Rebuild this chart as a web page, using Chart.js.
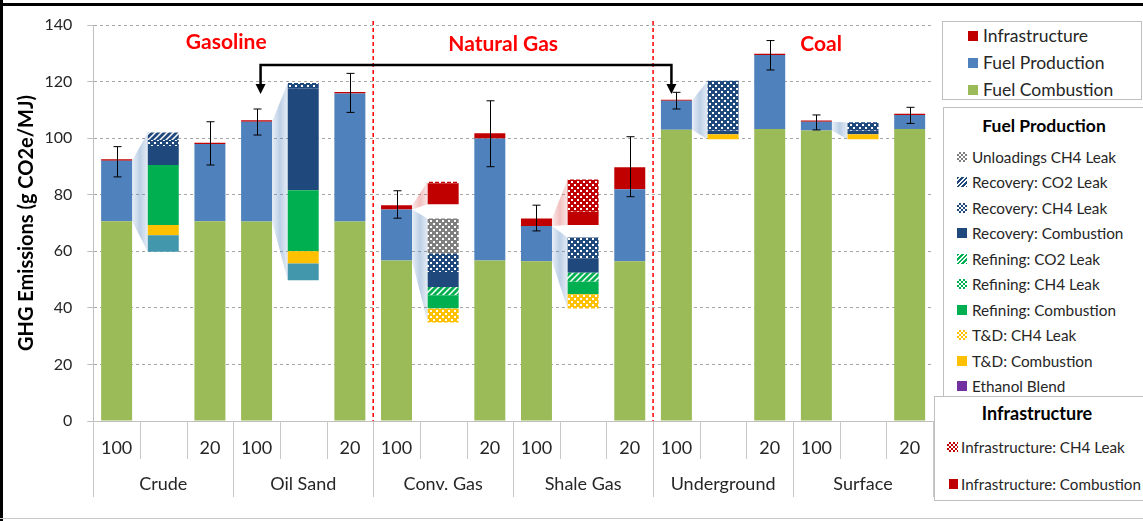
<!DOCTYPE html>
<html>
<head>
<meta charset="utf-8">
<script src="https://cdn.jsdelivr.net/npm/chart.js@4"></script>
<style>
body { margin: 0; background: #fff; font-family: Lato, sans-serif; }
#wrap { position: relative; width: 1143px; height: 521px; overflow: hidden; background: #fff; }
#chart { position: absolute; left: 0; top: 0; }
.frame { position: absolute; background: #000; }
.box { position: absolute; background: #fff; border: 1px solid #bfbfbf; box-sizing: border-box; color: #262626; }
.row { white-space: nowrap; display: flex; align-items: center; }
.sw { display: inline-block; width: 10px; height: 10px; margin-right: 5px; flex: none; }
.ttl { font-weight: bold; text-align: center; color: #000; }
</style>
</head>
<body>
<div id="wrap">
  <canvas id="chart" width="1143" height="521"></canvas>

  <div class="box" style="left:942px;top:21px;width:200px;height:79px;font-size:17.5px;padding-left:25px;">
    <div class="row" style="height:27px"><span class="sw" style="background:#C00000"></span>Infrastructure</div>
    <div class="row" style="height:27px"><span class="sw" style="background:#4F81BD"></span>Fuel Production</div>
    <div class="row" style="height:27px"><span class="sw" style="background:#9BBB59"></span>Fuel Combustion</div>
  </div>

  <div class="box" id="fpBox" style="left:943px;top:107px;width:210px;height:300px;font-size:15.3px;padding-left:13px;">
    <div class="ttl" style="height:36px;line-height:36px;margin-left:-13px;width:200px;font-size:17.5px">Fuel Production</div>
  </div>

  <div class="box" id="infBox" style="left:934px;top:396px;width:212px;height:105px;font-size:15.2px;">
    <div class="ttl" style="height:32px;line-height:32px;width:204px;font-size:18px">Infrastructure</div>
  </div>

  <div class="frame" style="left:0;top:3px;width:1143px;height:3px"></div>
  <div class="frame" style="left:0;top:0;width:3px;height:521px"></div>
  <div class="frame" style="left:0;top:518px;width:1143px;height:1px;background:#c8c8c8"></div>
</div>

<script>
// fuel groups, each with a 100-yr bar, a breakdown column and a 20-yr bar
const groups = ['Crude', 'Oil Sand', 'Conv. Gas', 'Shale Gas', 'Underground', 'Surface'];
const horizons = ['100', '', '20'];
const yTicks = [0, 20, 40, 60, 80, 100, 120, 140];

// main bars, pairs per group: [100-yr, 20-yr]
const fuelCombustion = [70.6, 70.6, 70.5, 70.5, 56.7, 56.7, 56.5, 56.5, 103.0, 103.2, 102.7, 103.2];
const fuelProduction = [21.4, 27.3, 35.3, 45.3, 18.1, 43.2, 12.4, 25.4, 10.2, 26.2, 3.1, 5.0];
const infrastructure = [0.5, 0.5, 0.5, 0.5, 1.5, 1.8, 2.7, 7.8, 0.4, 0.4, 0.4, 0.4];
const errLow  = [86.3, 90.5, 101.1, 109.1, 71.7, 89.9, 67.2, 79.3, 110.3, 124.1, 102.9, 105.2];
const errHigh = [97.0, 105.8, 110.3, 122.9, 81.4, 113.2, 76.3, 100.5, 116.2, 134.5, 108.2, 110.9];

// breakdown columns, one [low, high] per group (null = none)
const otherSegment   = [[59.8, 65.7], [49.8, 55.7], null, null, null, null];
const tdCombustion   = [[65.7, 69.3], [55.7, 60.0], null, null, [99.6, 101.4], [99.6, 101.4]];
const tdCH4          = [null, null, [34.8, 39.8], [39.8, 44.8], null, null];
const refCombustion  = [[69.3, 90.5], [60.0, 81.6], [39.8, 44.5], [44.8, 49.2], null, null];
const refCO2         = [null, null, [44.5, 47.4], [49.2, 52.4], null, null];
const recCombustion  = [[90.5, 97.2], [81.6, 117.6], [47.4, 52.7], [52.4, 57.5], [101.4, 102.6], [101.4, 102.6]];
const recCH4         = [[97.2, 99.3], [117.6, 119.5], [52.7, 59.2], [57.5, 64.9], [102.6, 120.3], [102.6, 105.6]];
const recCO2         = [[99.3, 102.0], null, null, null, null, null];
const unloadCH4      = [null, null, [59.2, 71.6], null, null, null];
const infCombustion  = [null, null, [76.6, 84.0], [69.3, 74.0], null, null];
const infCH4         = [null, null, [84.0, 84.6], [74.0, 85.4], null, null];

const labels = [];
groups.forEach((g) => {
    horizons.forEach((h, k) => labels.push([h, k === 1 ? g : '']));
});

function checker(color) {
    const c = document.createElement('canvas');
    c.width = 6; c.height = 6;
    const g = c.getContext('2d');
    g.fillStyle = color; g.fillRect(0, 0, 6, 6);
    g.fillStyle = '#fff';
    g.fillRect(1, 1, 2, 2); g.fillRect(4, 4, 2, 2);
    return g.createPattern(c, 'repeat');
}
function hatch(color) {
    const c = document.createElement('canvas');
    c.width = 6; c.height = 6;
    const g = c.getContext('2d');
    g.fillStyle = color; g.fillRect(0, 0, 6, 6);
    g.strokeStyle = '#fff'; g.lineWidth = 1.5;
    g.beginPath();
    g.moveTo(-1, 7); g.lineTo(7, -1);
    g.moveTo(-1, 1); g.lineTo(1, -1);
    g.moveTo(5, 7); g.lineTo(7, 5);
    g.stroke();
    return g.createPattern(c, 'repeat');
}

// main bars -> stacked floating ranges
function mainRanges(which) {
    const out = new Array(18).fill(null);
    for (let i = 0; i < 12; i++) {
        const idx = Math.floor(i / 2) * 3 + (i % 2) * 2;
        const c = fuelCombustion[i], p = fuelProduction[i], r = infrastructure[i];
        if (which === 'c') out[idx] = [0, c];
        if (which === 'p') out[idx] = [c, c + p];
        if (which === 'i') out[idx] = [c + p, c + p + r];
    }
    return out;
}
function breakdown(arr) {
    const out = new Array(18).fill(null);
    arr.forEach((v, g) => { out[g * 3 + 1] = v; });
    return out;
}

const fpItems = [
    ['Unloadings CH4 Leak', checker('#7F7F7F'), 'checker', '#7F7F7F'],
    ['Recovery: CO2 Leak', hatch('#1F497D'), 'hatch', '#1F497D'],
    ['Recovery: CH4 Leak', checker('#1F497D'), 'checker', '#1F497D'],
    ['Recovery: Combustion', '#1F497D', 'solid', '#1F497D'],
    ['Refining: CO2 Leak', hatch('#00B050'), 'hatch', '#00B050'],
    ['Refining: CH4 Leak', checker('#00B050'), 'checker', '#00B050'],
    ['Refining: Combustion', '#00B050', 'solid', '#00B050'],
    ['T&D: CH4 Leak', checker('#FFC000'), 'checker', '#FFC000'],
    ['T&D: Combustion', '#FFC000', 'solid', '#FFC000'],
    ['Ethanol Blend', '#7030A0', 'solid', '#7030A0']
];
const fill = {};
fpItems.forEach(it => { fill[it[0]] = it[1]; });

function swatchCss(kind, col) {
    if (kind === 'checker') return 'background:' + col + ' repeating-conic-gradient(' + col + ' 0 25%, #fff 0 50%) 0 0/4px 4px';
    if (kind === 'hatch') return 'background:repeating-linear-gradient(135deg,' + col + ' 0 2px,#fff 2px 3.2px)';
    return 'background:' + col;
}
const fpBox = document.getElementById('fpBox');
fpItems.forEach(it => {
    const d = document.createElement('div');
    d.className = 'row';
    d.style.height = '25.5px';
    d.innerHTML = '<span class="sw" style="' + swatchCss(it[2], it[3]) + '"></span>' + it[0].replace('&', '&amp;');
    fpBox.appendChild(d);
});
const infBox = document.getElementById('infBox');
[['Infrastructure: CH4 Leak', 'checker', 12], ['Infrastructure: Combustion', 'solid', 14]].forEach(it => {
    const d = document.createElement('div');
    d.className = 'row';
    d.style.height = '36.5px';
    d.style.paddingLeft = it[2] + 'px';
    d.innerHTML = '<span class="sw" style="' + swatchCss(it[1], '#C00000') + ';width:' + (it[1] === 'solid' ? 9 : 11) + 'px;margin-right:3px"></span>' + it[0];
    infBox.appendChild(d);
});

const datasets = [
    { label: 'Fuel Combustion', data: mainRanges('c'), backgroundColor: '#9BBB59' },
    { label: 'Fuel Production', data: mainRanges('p'), backgroundColor: '#4F81BD' },
    { label: 'Infrastructure', data: mainRanges('i'), backgroundColor: '#C00000' },
    { label: 'Other', data: breakdown(otherSegment), backgroundColor: '#4397AC' },
    { label: 'T&D: Combustion', data: breakdown(tdCombustion), backgroundColor: fill['T&D: Combustion'] },
    { label: 'T&D: CH4 Leak', data: breakdown(tdCH4), backgroundColor: fill['T&D: CH4 Leak'] },
    { label: 'Refining: Combustion', data: breakdown(refCombustion), backgroundColor: fill['Refining: Combustion'] },
    { label: 'Refining: CO2 Leak', data: breakdown(refCO2), backgroundColor: fill['Refining: CO2 Leak'] },
    { label: 'Recovery: Combustion', data: breakdown(recCombustion), backgroundColor: fill['Recovery: Combustion'] },
    { label: 'Recovery: CH4 Leak', data: breakdown(recCH4), backgroundColor: fill['Recovery: CH4 Leak'] },
    { label: 'Recovery: CO2 Leak', data: breakdown(recCO2), backgroundColor: fill['Recovery: CO2 Leak'] },
    { label: 'Unloadings CH4 Leak', data: breakdown(unloadCH4), backgroundColor: fill['Unloadings CH4 Leak'] },
    { label: 'Infrastructure: Combustion', data: breakdown(infCombustion), backgroundColor: '#C00000' },
    { label: 'Infrastructure: CH4 Leak', data: breakdown(infCH4), backgroundColor: checker('#C00000') }
];
const prodSets = [3, 4, 5, 6, 7, 8, 9, 10, 11];
const infSets = [12, 13];

// funnels from a source bar segment to its breakdown column
const funnels = [
    [0, 'p'], [1, 'p'], [2, 'i'], [2, 'p'], [3, 'i'], [3, 'p'], [4, 'p'], [5, 'p']
];

const extras = {
    id: 'extras',
    beforeDatasetsDraw(chart) {
        const ctx = chart.ctx, x = chart.scales.x, y = chart.scales.y;
        const bw = chart.getDatasetMeta(0).data[0].width;
        funnels.forEach(([g, kind]) => {
            const src = g * 3, dst = g * 3 + 1;
            const s = chart.data.datasets[kind === 'p' ? 1 : 2].data[src];
            let lo = Infinity, hi = -Infinity;
            (kind === 'p' ? prodSets : infSets).forEach(d => {
                const v = chart.data.datasets[d].data[dst];
                if (v) { lo = Math.min(lo, v[0]); hi = Math.max(hi, v[1]); }
            });
            const x0 = x.getPixelForValue(src) + bw / 2, x1 = x.getPixelForValue(dst) - bw / 2;
            const rgb = kind === 'p' ? '79,129,189' : '220,90,90';
            const grad = ctx.createLinearGradient(x0, 0, x1, 0);
            grad.addColorStop(0, 'rgba(' + rgb + ',0.12)');
            grad.addColorStop(0.5, 'rgba(' + rgb + ',0.38)');
            grad.addColorStop(1, 'rgba(' + rgb + ',0.15)');
            ctx.save();
            ctx.fillStyle = grad;
            ctx.beginPath();
            ctx.moveTo(x0, y.getPixelForValue(s[1]));
            ctx.lineTo(x1, y.getPixelForValue(hi));
            ctx.lineTo(x1, y.getPixelForValue(lo));
            ctx.lineTo(x0, y.getPixelForValue(s[0]));
            ctx.closePath();
            ctx.fill();
            ctx.restore();
        });
    },
    afterDraw(chart) {
        const ctx = chart.ctx, x = chart.scales.x, y = chart.scales.y, a = chart.chartArea;
        const w = (a.right - a.left) / labels.length;
        ctx.save();
        // category separators under the axis
        ctx.strokeStyle = '#c8c8c8'; ctx.lineWidth = 1;
        for (let i = 0; i <= labels.length; i++) {
            const px = Math.round(a.left + i * w) + 0.5;
            ctx.beginPath();
            ctx.moveTo(px, a.bottom);
            ctx.lineTo(px, i % 3 === 0 ? a.bottom + 76 : a.bottom + 38);
            ctx.stroke();
        }
        // red dashed fuel separators
        ctx.strokeStyle = '#FF0000'; ctx.lineWidth = 1.5; ctx.setLineDash([4, 3]);
        [6, 12].forEach(i => {
            const px = a.left + i * w;
            ctx.beginPath(); ctx.moveTo(px, a.top - 4); ctx.lineTo(px, a.bottom); ctx.stroke();
        });
        ctx.setLineDash([]);
        // error bars
        ctx.strokeStyle = '#000'; ctx.lineWidth = 1;
        for (let i = 0; i < 12; i++) {
            const idx = Math.floor(i / 2) * 3 + (i % 2) * 2;
            const px = Math.round(x.getPixelForValue(idx)) + 0.5;
            const y0 = y.getPixelForValue(errLow[i]), y1 = y.getPixelForValue(errHigh[i]);
            ctx.beginPath();
            ctx.moveTo(px, y0); ctx.lineTo(px, y1);
            ctx.moveTo(px - 4, y0); ctx.lineTo(px + 4, y0);
            ctx.moveTo(px - 4, y1); ctx.lineTo(px + 4, y1);
            ctx.stroke();
        }
        // fuel type titles
        ctx.fillStyle = '#FF0000';
        ctx.font = 'bold 21px Lato';
        ctx.textAlign = 'center'; ctx.textBaseline = 'middle';
        ctx.fillText('Gasoline', a.left + 3 * w - 7, 42);
        ctx.fillText('Natural Gas', a.left + 9 * w - 10, 44);
        ctx.fillText('Coal', a.left + 15 * w + 28, 44);
        // arrow from oil sand to underground coal
        const ax0 = x.getPixelForValue(3) + 4, ax1 = x.getPixelForValue(12) - 5;
        const ay = 65, tip = 94;
        ctx.strokeStyle = '#000'; ctx.lineWidth = 2.5;
        ctx.beginPath();
        ctx.moveTo(ax0, tip - 8); ctx.lineTo(ax0, ay); ctx.lineTo(ax1, ay); ctx.lineTo(ax1, tip - 8);
        ctx.stroke();
        ctx.fillStyle = '#000';
        [ax0, ax1].forEach(px => {
            ctx.beginPath();
            ctx.moveTo(px - 5, tip - 10); ctx.lineTo(px + 5, tip - 10); ctx.lineTo(px, tip);
            ctx.closePath(); ctx.fill();
        });
        ctx.restore();
    }
};

new Chart(document.getElementById('chart'), {
    type: 'bar',
    data: { labels: labels, datasets: datasets },
    options: {
        responsive: false,
        animation: false,
        devicePixelRatio: 1,
        layout: { padding: { left: 0, right: 210, top: 25, bottom: 0 } },
        datasets: { bar: { barPercentage: 0.664, categoryPercentage: 1 } },
        plugins: { legend: { display: false }, tooltip: { enabled: false } },
        scales: {
            x: {
                stacked: true,
                grid: { display: false },
                border: { display: true, color: '#bfbfbf' },
                ticks: {
                    autoSkip: false, maxRotation: 0, padding: 1,
                    color: '#262626',
                    font: { family: 'Lato', size: 18, lineHeight: '36.3px' }
                },
                afterFit(s) { s.height = 100; }
            },
            y: {
                min: 0, max: 140,
                afterBuildTicks(s) { s.ticks = yTicks.map(v => ({ value: v })); },
                grid: { color: '#a6a6a6', tickLength: 6, tickColor: '#bfbfbf' },
                border: { display: true, color: '#bfbfbf', dash: [3, 3] },
                ticks: { padding: 15, color: '#262626', font: { family: 'Lato', size: 16 } },
                title: {
                    display: true, text: 'GHG Emissions (g CO2e/MJ)', color: '#000',
                    font: { family: 'Lato', size: 20, weight: 'bold' },
                    padding: { top: 15, bottom: 0 }
                },
                afterFit(s) { s.width = 93.3; }
            }
        }
    },
    plugins: [extras]
});
</script>
</body>
</html>
